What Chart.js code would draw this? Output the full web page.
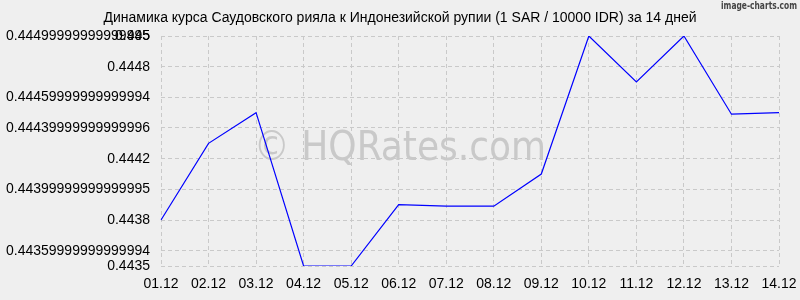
<!DOCTYPE html>
<html>
<head>
<meta charset="utf-8">
<script src="https://cdn.jsdelivr.net/npm/chart.js@4/dist/chart.umd.min.js"></script>
<style>
    html, body { margin: 0; padding: 0; background: #efefef; }
    #wrap { width: 800px; height: 300px; }
</style>
</head>
<body>
<div id="wrap"><canvas id="rateChart" width="800" height="300"></canvas></div>
<script>
const dates = ["01.12", "02.12", "03.12", "04.12", "05.12", "06.12", "07.12",
    "08.12", "09.12", "10.12", "11.12", "12.12", "13.12", "14.12"];
const rates = [0.4438, 0.4443, 0.4445, 0.4435, 0.4435, 0.4439, 0.44389,
    0.44389, 0.4441, 0.445, 0.4447, 0.445, 0.44449, 0.4445];
const yTickValues = [0.4435, 0.4436, 0.4438, 0.444, 0.4442, 0.4444, 0.4446, 0.4448, 0.445, 0.445];
const yTickLabels = ["0.4435", "0.44359999999999994", "0.4438", "0.44399999999999995", "0.4442",
    "0.44439999999999996", "0.44459999999999994", "0.4448", "0.44499999999999995", "0.445"];
const chartTitle = "Динамика курса Саудовского рияла к Индонезийской рупии (1 SAR / 10000 IDR) за 14 дней";
const watermark = "© HQRates.com";
const credit = "image-charts.com";

const gridStyle = {
    color: "#c9c9c9",
    lineWidth: 1,
    drawTicks: false,
};

// in v4 the dash of the grid lines comes from border.dash
const borderStyle = { display: false, dash: [4, 3] };

const decorPlugin = {
    id: "decor",
    beforeDraw(chart) {
        const ctx = chart.ctx;
        ctx.save();
        ctx.fillStyle = "#efefef";
        ctx.fillRect(0, 0, chart.width, chart.height);
        ctx.fillStyle = "#000";
        ctx.font = "14px 'Liberation Sans', Arial, sans-serif";
        ctx.textAlign = "center";
        ctx.textBaseline = "middle";
        ctx.fillText(chartTitle, 400, 18);
        ctx.fillStyle = "#444";
        ctx.font = "bold 11px 'DejaVu Sans Condensed', 'DejaVu Sans', sans-serif";
        ctx.textAlign = "right";
        ctx.textBaseline = "top";
        ctx.fillText(credit, 797, 1, 76);
        ctx.restore();
    },
    beforeDatasetsDraw(chart) {
        const ctx = chart.ctx;
        ctx.save();
        ctx.fillStyle = "#c9c9c9";
        ctx.font = "40px 'DejaVu Sans Condensed', 'DejaVu Sans', sans-serif";
        ctx.textAlign = "center";
        ctx.textBaseline = "alphabetic";
        ctx.fillText(watermark, 400, 160, 293);
        ctx.restore();
    },
};

new Chart(document.getElementById("rateChart"), {
    type: "line",
    data: {
        labels: dates,
        datasets: [
            {
                data: rates,
                borderColor: "#0000ff",
                borderWidth: 1.2,
                pointRadius: 0,
                tension: 0,
                fill: false,
            },
        ],
    },
    options: {
        responsive: false,
        animation: false,
        layout: { padding: { top: 36, right: 21, left: 0, bottom: 0 } },
        plugins: {
            legend: { display: false },
            tooltip: { enabled: false },
        },
        scales: {
            x: {
                offset: false,
                grid: gridStyle,
                border: borderStyle,
                ticks: {
                    color: "#000",
                    padding: 10,
                    maxRotation: 0,
                    autoSkip: false,
                    font: { family: "'Liberation Sans', Arial, sans-serif", size: 14 },
                },
                afterFit(scale) {
                    scale.height = 34;
                    scale.paddingRight = 21;
                    scale.paddingLeft = 0;
                },
            },
            y: {
                min: 0.4435,
                max: 0.445,
                grid: gridStyle,
                border: borderStyle,
                afterBuildTicks(scale) {
                    scale.ticks = yTickValues.map((value) => ({ value }));
                },
                afterFit(scale) {
                    scale.width = 161;
                },
                ticks: {
                    color: "#000",
                    padding: 11,
                    autoSkip: false,
                    font: { family: "'Liberation Sans', Arial, sans-serif", size: 14 },
                    callback(value, index) {
                        return yTickLabels[index];
                    },
                },
            },
        },
    },
    plugins: [decorPlugin],
});
</script>
</body>
</html>
